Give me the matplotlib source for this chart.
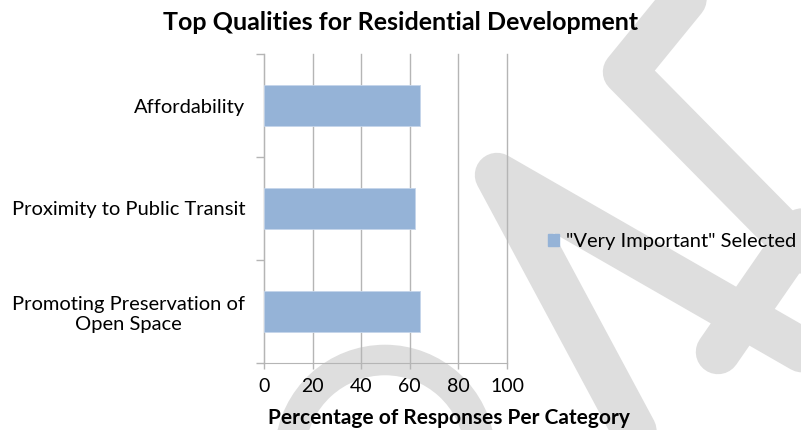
import numpy as np
import matplotlib
matplotlib.use('Agg')
import matplotlib.pyplot as plt
from matplotlib.patches import Patch, Arc

# data
categories = ['Affordability', 'Proximity to Public Transit',
              'Promoting Preservation of\nOpen Space']
values = [64, 62, 64]
series_name = '"Very Important" Selected'
x_ticks = [0, 20, 40, 60, 80, 100]

BAR_COLOR = '#95b3d7'
GRID = '#b5b5b5'
WM = '#dedede'

plt.rcParams['font.family'] = ['Lato', 'DejaVu Sans']

W, H = 801, 430
fig = plt.figure(figsize=(W / 100, H / 100), dpi=100)

# watermark in pixel coordinates behind the chart
bg = fig.add_axes([0, 0, 1, 1])
bg.set_xlim(0, W)
bg.set_ylim(H, 0)
bg.axis('off')
lw = 32
kw = dict(color=WM, lw=lw, solid_capstyle='round', solid_joinstyle='round')
bg.plot([700, 625, 840], [-20, 72, 290], **kw)
bg.plot([650, 497, 840], [460, 175, 372], **kw)
bg.plot([718, 830], [352, 190], **kw)
bg.add_patch(Arc((385, 455), 190, 190, theta1=185, theta2=355, color=WM, lw=22))

# chart
ax = fig.add_axes([264 / W, 1 - 363 / H, 243 / W, 309 / H])
ax.set_facecolor('none')
y = np.arange(len(categories))
ax.barh(y, values, height=0.4, color=BAR_COLOR, edgecolor='#c5d5ea', lw=0.6, zorder=3)

ax.set_xlim(0, 100)
ax.set_ylim(2.5, -0.5)
ax.set_xticks(x_ticks)
ax.set_xticklabels([str(t) for t in x_ticks], fontsize=14)
ax.set_yticks(y)
ax.set_yticklabels(categories, fontsize=14.5, multialignment='center')
ax.set_yticks([-0.5, 0.5, 1.5, 2.5], minor=True)
ax.tick_params(axis='y', which='major', length=0, pad=13.5)
ax.tick_params(axis='y', which='minor', length=6, color=GRID, width=1)
ax.tick_params(axis='x', length=4, color=GRID, width=1, pad=7)
ax.grid(axis='x', color=GRID, lw=1, zorder=0)
for gl in ax.get_xgridlines():
    gl.set_clip_on(False)
for s in ['top', 'right']:
    ax.spines[s].set_visible(False)
for s in ['left', 'bottom']:
    ax.spines[s].set_color(GRID)

ax.set_xlabel('Percentage of Responses Per Category', fontsize=15, fontweight='bold')
ax.xaxis.set_label_coords((449 - 264) / 243, -0.145)

fig.suptitle('Top Qualities for Residential Development', fontsize=18,
             fontweight='bold', x=0.5, y=1 - 23 / H, va='center')

fig.legend(handles=[Patch(color=BAR_COLOR, label=series_name)], loc='center left',
           bbox_to_anchor=(548 / W, 1 - 242 / H), frameon=False, fontsize=14.5,
           borderpad=0, borderaxespad=0,
           handlelength=0.55, handleheight=0.55, handletextpad=0.35)

fig.savefig('out.png', dpi=100)
